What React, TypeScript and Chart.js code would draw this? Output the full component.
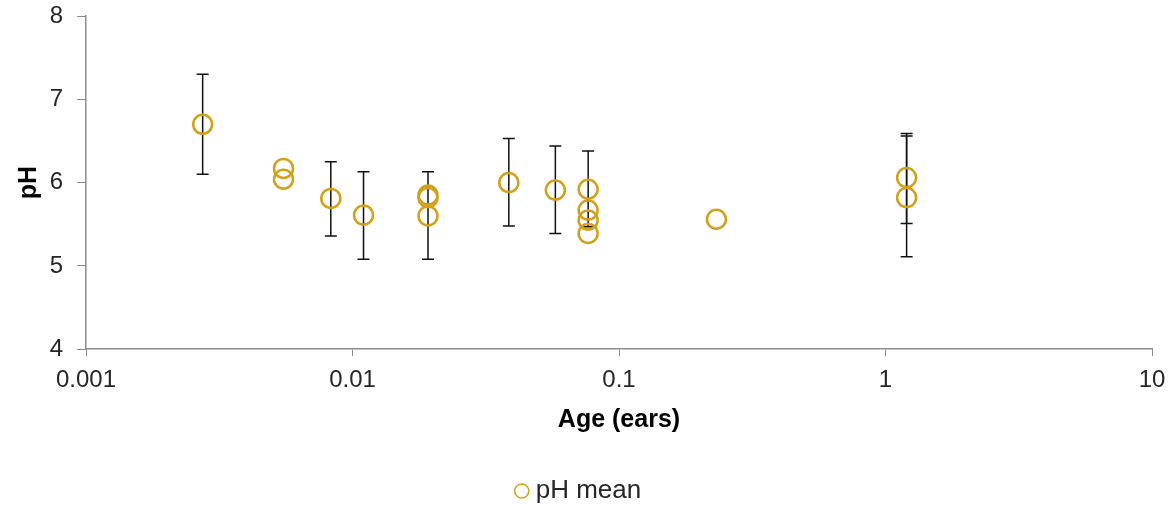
import React, { useEffect, useRef } from "react";
import { Chart, registerables } from "chart.js";

Chart.register(...registerables);

const xValues = [0.00274, 0.00551, 0.00551, 0.00829, 0.011, 0.0192, 0.0192, 0.0192, 0.0386, 0.0577, 0.0766, 0.0766, 0.0766, 0.0766, 0.232, 1.2, 1.2];
const phMean = [6.7, 6.17, 6.04, 5.81, 5.61, 5.85, 5.82, 5.6, 6.0, 5.91, 5.92, 5.67, 5.55, 5.39, 5.56, 6.06, 5.82];
const errLow = [6.1, null, null, 5.36, 5.08, 5.08, null, null, 5.48, 5.39, 5.47, null, null, null, null, 5.51, 5.11];
const errHigh = [7.3, null, null, 6.25, 6.13, 6.13, null, null, 6.53, 6.44, 6.38, null, null, null, null, 6.59, 6.56];
const xTicks = [0.001, 0.01, 0.1, 1, 10];
const xTickLabels = ["0.001", "0.01", "0.1", "1", "10"];
const yTicks = [4, 5, 6, 7, 8];

const GOLD = "#D4A017";
const AXIS = "#8C8C8C";
const TEXT = "#262626";
const FONT = "'Liberation Sans', Arial, sans-serif";

const errorBarPlugin = {
  id: "errorBars",
  beforeDatasetsDraw(chart: any) {
    const ctx = chart.ctx;
    const xs = chart.scales.x;
    const ys = chart.scales.y;
    ctx.save();
    ctx.strokeStyle = "#111111";
    ctx.lineWidth = 1.5;
    for (let i = 0; i < xValues.length; i++) {
      const lo = errLow[i];
      const hi = errHigh[i];
      if (lo == null || hi == null) continue;
      const px = xs.getPixelForValue(xValues[i]);
      const pLo = ys.getPixelForValue(lo);
      const pHi = ys.getPixelForValue(hi);
      ctx.beginPath();
      ctx.moveTo(px, pLo);
      ctx.lineTo(px, pHi);
      ctx.moveTo(px - 6, pLo);
      ctx.lineTo(px + 6, pLo);
      ctx.moveTo(px - 6, pHi);
      ctx.lineTo(px + 6, pHi);
      ctx.stroke();
    }
    ctx.restore();
  },
};

export default function App() {
  const ref = useRef<HTMLCanvasElement | null>(null);
  useEffect(() => {
    if (!ref.current) return;
    const chart = new Chart(ref.current, {
      type: "scatter",
      data: {
        datasets: [
          {
            label: "pH mean",
            data: xValues.map((x, i) => ({ x, y: phMean[i] })),
            pointStyle: "circle",
            pointRadius: 9.5,
            pointHoverRadius: 9.5,
            borderWidth: 2.5,
            borderColor: GOLD,
            backgroundColor: "rgba(0,0,0,0)",
          },
        ],
      },
      options: {
        animation: false,
        responsive: false,
        maintainAspectRatio: false,
        layout: { padding: { left: 10, right: 20, top: 16, bottom: -9 } },
        plugins: {
          tooltip: { enabled: false },
          legend: {
            position: "bottom",
            labels: {
              usePointStyle: true,
              boxWidth: 2,
              boxHeight: 10,
              padding: 0,
              color: TEXT,
              font: { family: FONT, size: 26, lineHeight: 1.0 },
              generateLabels: () => [
                {
                  text: "pH mean",
                  pointStyle: "circle",
                  strokeStyle: GOLD,
                  fillStyle: "rgba(0,0,0,0)",
                  lineWidth: 1.5,
                  fontColor: TEXT,
                  datasetIndex: 0,
                } as any,
              ],
            },
          },
        },
        scales: {
          x: {
            type: "logarithmic",
            min: 0.001,
            max: 10,
            afterBuildTicks: (scale: any) => {
              scale.ticks = xTicks.map((v) => ({ value: v }));
            },
            afterFit: (scale: any) => {
              scale.paddingLeft = 0;
              scale.paddingRight = 0;
            },
            ticks: {
              autoSkip: false,
              maxRotation: 0,
              padding: 10,
              color: TEXT,
              font: { family: FONT, size: 24 },
              callback: (v: any) => {
                const idx = xTicks.findIndex((t) => Math.abs(t - v) / t < 1e-6);
                return idx >= 0 ? xTickLabels[idx] : "";
              },
            },
            grid: { drawOnChartArea: false, drawTicks: true, tickLength: 7, color: AXIS },
            border: { color: AXIS, width: 1.5 },
            title: {
              display: true,
              text: "Age (ears)",
              color: "#000000",
              font: { family: FONT, size: 25, weight: "bold" },
              padding: { top: 0, bottom: 43 },
            },
          },
          y: {
            min: 4,
            max: 8,
            afterBuildTicks: (scale: any) => {
              scale.ticks = yTicks.map((v) => ({ value: v }));
            },
            afterFit: (scale: any) => {
              scale.width = 76;
              scale.paddingTop = 0;
              scale.paddingBottom = 0;
            },
            ticks: {
              padding: 14,
              color: TEXT,
              font: { family: FONT, size: 24 },
            },
            grid: { drawOnChartArea: false, drawTicks: true, tickLength: 9, color: AXIS },
            border: { color: AXIS, width: 1.5 },
            title: {
              display: true,
              text: "pH",
              color: "#000000",
              font: { family: FONT, size: 25, weight: "bold" },
              padding: { top: 4, bottom: 4 },
            },
          },
        },
      },
      plugins: [errorBarPlugin],
    });
    return () => chart.destroy();
  }, []);
  return (
    <div style={{ position: "fixed", left: 0, top: 0, width: 1172, height: 505, background: "#ffffff" }}>
      <canvas ref={ref} width={1172} height={505} />
    </div>
  );
}
